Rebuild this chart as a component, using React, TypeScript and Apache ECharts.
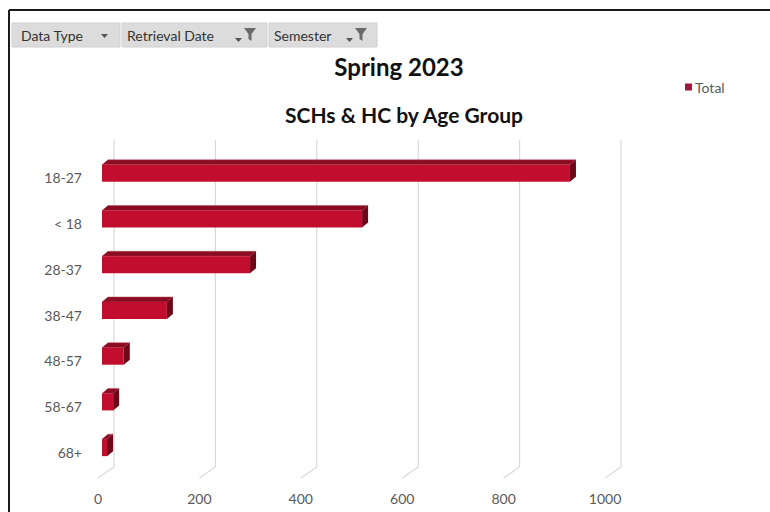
import React, { useEffect, useRef } from "react";
import * as echarts from "echarts";

const categories = ["18-27", "< 18", "28-37", "38-47", "48-57", "58-67", "68+"];
const totals = [923, 513, 292, 128, 43, 22, 10];
const gridTicks = [0, 200, 400, 600, 800, 1000];
const titleText = "Spring 2023";
const subtitleText = "SCHs & HC by Age Group";
const seriesName = "Total";
const filterLabels = ["Data Type", "Retrieval Date", "Semester"];

const FONT = "Lato, 'Open Sans', sans-serif";

export default function App() {
  const ref = useRef<HTMLDivElement>(null);
  useEffect(() => {
    if (!ref.current) return;
    const chart = echarts.init(ref.current, null, { renderer: "svg" });

    const arrow = (x: number, y: number) => ({
      type: "polygon",
      shape: { points: [[x, y], [x + 7, y], [x + 3.5, y + 4]] },
      style: { fill: "#555" },
    });
    const funnel = (x: number, y: number) => ({
      type: "polygon",
      shape: {
        points: [[x, y], [x + 12, y], [x + 7.5, y + 6], [x + 7.5, y + 13], [x + 4.5, y + 11], [x + 4.5, y + 6]],
      },
      style: { fill: "#6a6a6a" },
    });
    const btn = (x: number, w: number) => ({
      type: "rect",
      shape: { x, y: 23, width: w, height: 24 },
      style: { fill: "#dcdcdc", stroke: "#d0d0d0", lineWidth: 1 },
    });
    const btnText = (x: number, t: string) => ({
      type: "text",
      x,
      y: 35,
      style: { text: t, font: "14px Lato, sans-serif", fill: "#333", verticalAlign: "middle", textVerticalAlign: "middle" },
    });

    chart.setOption({
      animation: false,
      backgroundColor: "#ffffff",
      title: [
        {
          text: titleText,
          left: 394,
          top: 49,
          textAlign: "center",
          textStyle: { fontFamily: FONT, fontWeight: "bold", fontSize: 24, color: "#111" },
        },
        {
          text: subtitleText,
          left: 399,
          top: 99,
          textAlign: "center",
          textStyle: { fontFamily: FONT, fontWeight: "bold", fontSize: 21, color: "#111" },
        },
      ],
      legend: {
        data: [seriesName],
        left: 680,
        top: 75,
        icon: "rect",
        itemWidth: 7,
        itemHeight: 7,
        itemGap: 4,
        textStyle: { fontFamily: FONT, fontSize: 14, color: "#595959", padding: [0, 0, 0, -2] },
      },
      grid: { left: 98, right: 165, top: 155, bottom: 37 },
      xAxis: {
        type: "value",
        min: 0,
        max: 1000,
        interval: 200,
        splitLine: { show: false },
        axisLine: { show: false },
        axisTick: { show: false },
        axisLabel: {
          margin: 16,
          fontFamily: FONT,
          fontSize: 14,
          color: "#595959",
          formatter: (v: number) => String(v),
        },
      },
      yAxis: {
        type: "category",
        data: categories,
        inverse: true,
        axisLine: { show: false },
        axisTick: { show: false },
        axisLabel: { margin: 16, fontFamily: FONT, fontSize: 14, color: "#595959" },
      },
      graphic: [
        { type: "line", shape: { x1: 9, y1: 10, x2: 770, y2: 10 }, style: { stroke: "#1a1a1a", lineWidth: 2 } },
        { type: "line", shape: { x1: 9, y1: 10, x2: 9, y2: 512 }, style: { stroke: "#1a1a1a", lineWidth: 2 } },
        btn(12, 108),
        btn(122, 145),
        btn(269, 108),
        btnText(21, filterLabels[0]),
        arrow(101, 34),
        btnText(127, filterLabels[1]),
        arrow(235, 38),
        funnel(244, 28),
        btnText(274, filterLabels[2]),
        arrow(346, 38),
        funnel(355, 28),
      ],
      series: [
        {
          name: "grid",
          type: "custom",
          z: 1,
          silent: true,
          data: gridTicks.map((v) => [v, 0]),
          encode: { x: 0, y: 1 },
          renderItem: (params: any, api: any) => {
            const p = api.coord([api.value(0), 0]);
            const x = p[0];
            const bottom = params.coordSys.y + params.coordSys.height + 3;
            const style = { stroke: "#d9d9d9", lineWidth: 1.2 };
            return {
              type: "group",
              children: [
                { type: "line", shape: { x1: x, y1: bottom, x2: x + 16, y2: bottom - 11 }, style },
                { type: "line", shape: { x1: x + 16, y1: bottom - 11, x2: x + 16, y2: 140 }, style },
              ],
            };
          },
        },
        {
          name: seriesName,
          type: "custom",
          z: 2,
          itemStyle: { color: "#a3173a" },
          data: totals.map((v, i) => [v, i]),
          encode: { x: 0, y: 1 },
          renderItem: (params: any, api: any) => {
            const cat = api.value(1);
            const p0 = api.coord([0, cat]);
            const p1 = api.coord([api.value(0), cat]);
            const dx = 4;
            const h = 17;
            const ddx = 6;
            const ddy = 5;
            const x0 = p0[0] + dx;
            const x1 = p1[0] + dx;
            const yb = p0[1] + 4;
            const yt = yb - h;
            return {
              type: "group",
              children: [
                {
                  type: "polygon",
                  shape: { points: [[x0, yt], [x1, yt], [x1 + ddx, yt - ddy], [x0 + ddx, yt - ddy]] },
                  style: { fill: "#8a0b22", stroke: "#b24a5c", lineWidth: 0.5 },
                },
                {
                  type: "polygon",
                  shape: { points: [[x1, yt], [x1 + ddx, yt - ddy], [x1 + ddx, yb - ddy], [x1, yb]] },
                  style: { fill: "#6e0818" },
                },
                {
                  type: "rect",
                  shape: { x: x0, y: yt, width: Math.max(x1 - x0, 0.5), height: h },
                  style: { fill: "#c20e2e" },
                },
              ],
            };
          },
        },
      ],
    });
    return () => chart.dispose();
  }, []);
  return <div ref={ref} style={{ position: "fixed", left: 0, top: 0, width: 770, height: 512 }} />;
}
